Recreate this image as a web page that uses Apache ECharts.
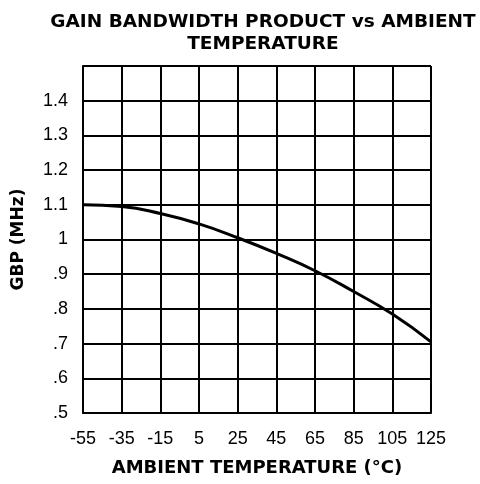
<!DOCTYPE html>
<html><head><meta charset="utf-8">
<script src="https://cdn.jsdelivr.net/npm/echarts@6/dist/echarts.min.js"></script>
<style>html,body{margin:0;padding:0;background:#fff}#c{width:480px;height:484px}</style>
</head><body><div id="c"></div>
<script>
var temperatures = ['-55','-35','-15','5','25','45','65','85','105','125'];
var gbp = [1.10, 1.095, 1.075, 1.045, 1.005, 0.96, 0.91, 0.85, 0.785, 0.705];
var yMin = 0.5, yMax = 1.5, yStep = 0.1;

var chart = echarts.init(document.getElementById('c'));
var font = 'Liberation Sans, Arial, sans-serif';
var boldFont = 'DejaVu Sans, Liberation Sans, sans-serif';
chart.setOption({
  animation: false,
  backgroundColor: '#fff',
  title: {
    text: 'GAIN BANDWIDTH PRODUCT vs AMBIENT\nTEMPERATURE',
    left: 258, top: 6, textAlign: 'center',
    textStyle: {fontFamily: boldFont, fontSize: 18.5, fontWeight: 'bold', color: '#000', lineHeight: 22}
  },
  grid: {left: 83, right: 49, top: 66, bottom: 71},
  xAxis: {
    type: 'category', data: temperatures, boundaryGap: false,
    name: 'AMBIENT TEMPERATURE (°C)', nameLocation: 'middle', nameGap: 46,
    nameTextStyle: {fontFamily: boldFont, fontSize: 18, fontWeight: 'bold', color: '#000'},
    axisLine: {show: true, lineStyle: {color: '#000', width: 2}},
    axisTick: {show: false},
    axisLabel: {fontFamily: font, fontSize: 18, color: '#000', margin: 17, interval: 0},
    splitLine: {show: true, lineStyle: {color: '#000', width: 2}}
  },
  yAxis: {
    type: 'value', min: yMin, max: yMax, interval: yStep,
    name: 'GBP (MHz)', nameLocation: 'middle', nameGap: 56, nameRotate: 90,
    nameTextStyle: {fontFamily: boldFont, fontSize: 17, fontWeight: 'bold', color: '#000'},
    axisLine: {show: true, lineStyle: {color: '#000', width: 2}},
    axisTick: {show: false},
    axisLabel: {fontFamily: font, fontSize: 18, color: '#000', margin: 15,
      formatter: function (v) {
        var r = Math.round(v * 10) / 10;
        if (r >= 1.45) return '';
        var s = r.toString();
        if (s.indexOf('0.') === 0) s = s.substring(1);
        return s;
      }},
    splitLine: {show: true, lineStyle: {color: '#000', width: 2}}
  },
  series: [{
    type: 'line', data: gbp, smooth: true, symbol: 'none',
    lineStyle: {color: '#000', width: 3}
  }]
});
</script></body></html>
